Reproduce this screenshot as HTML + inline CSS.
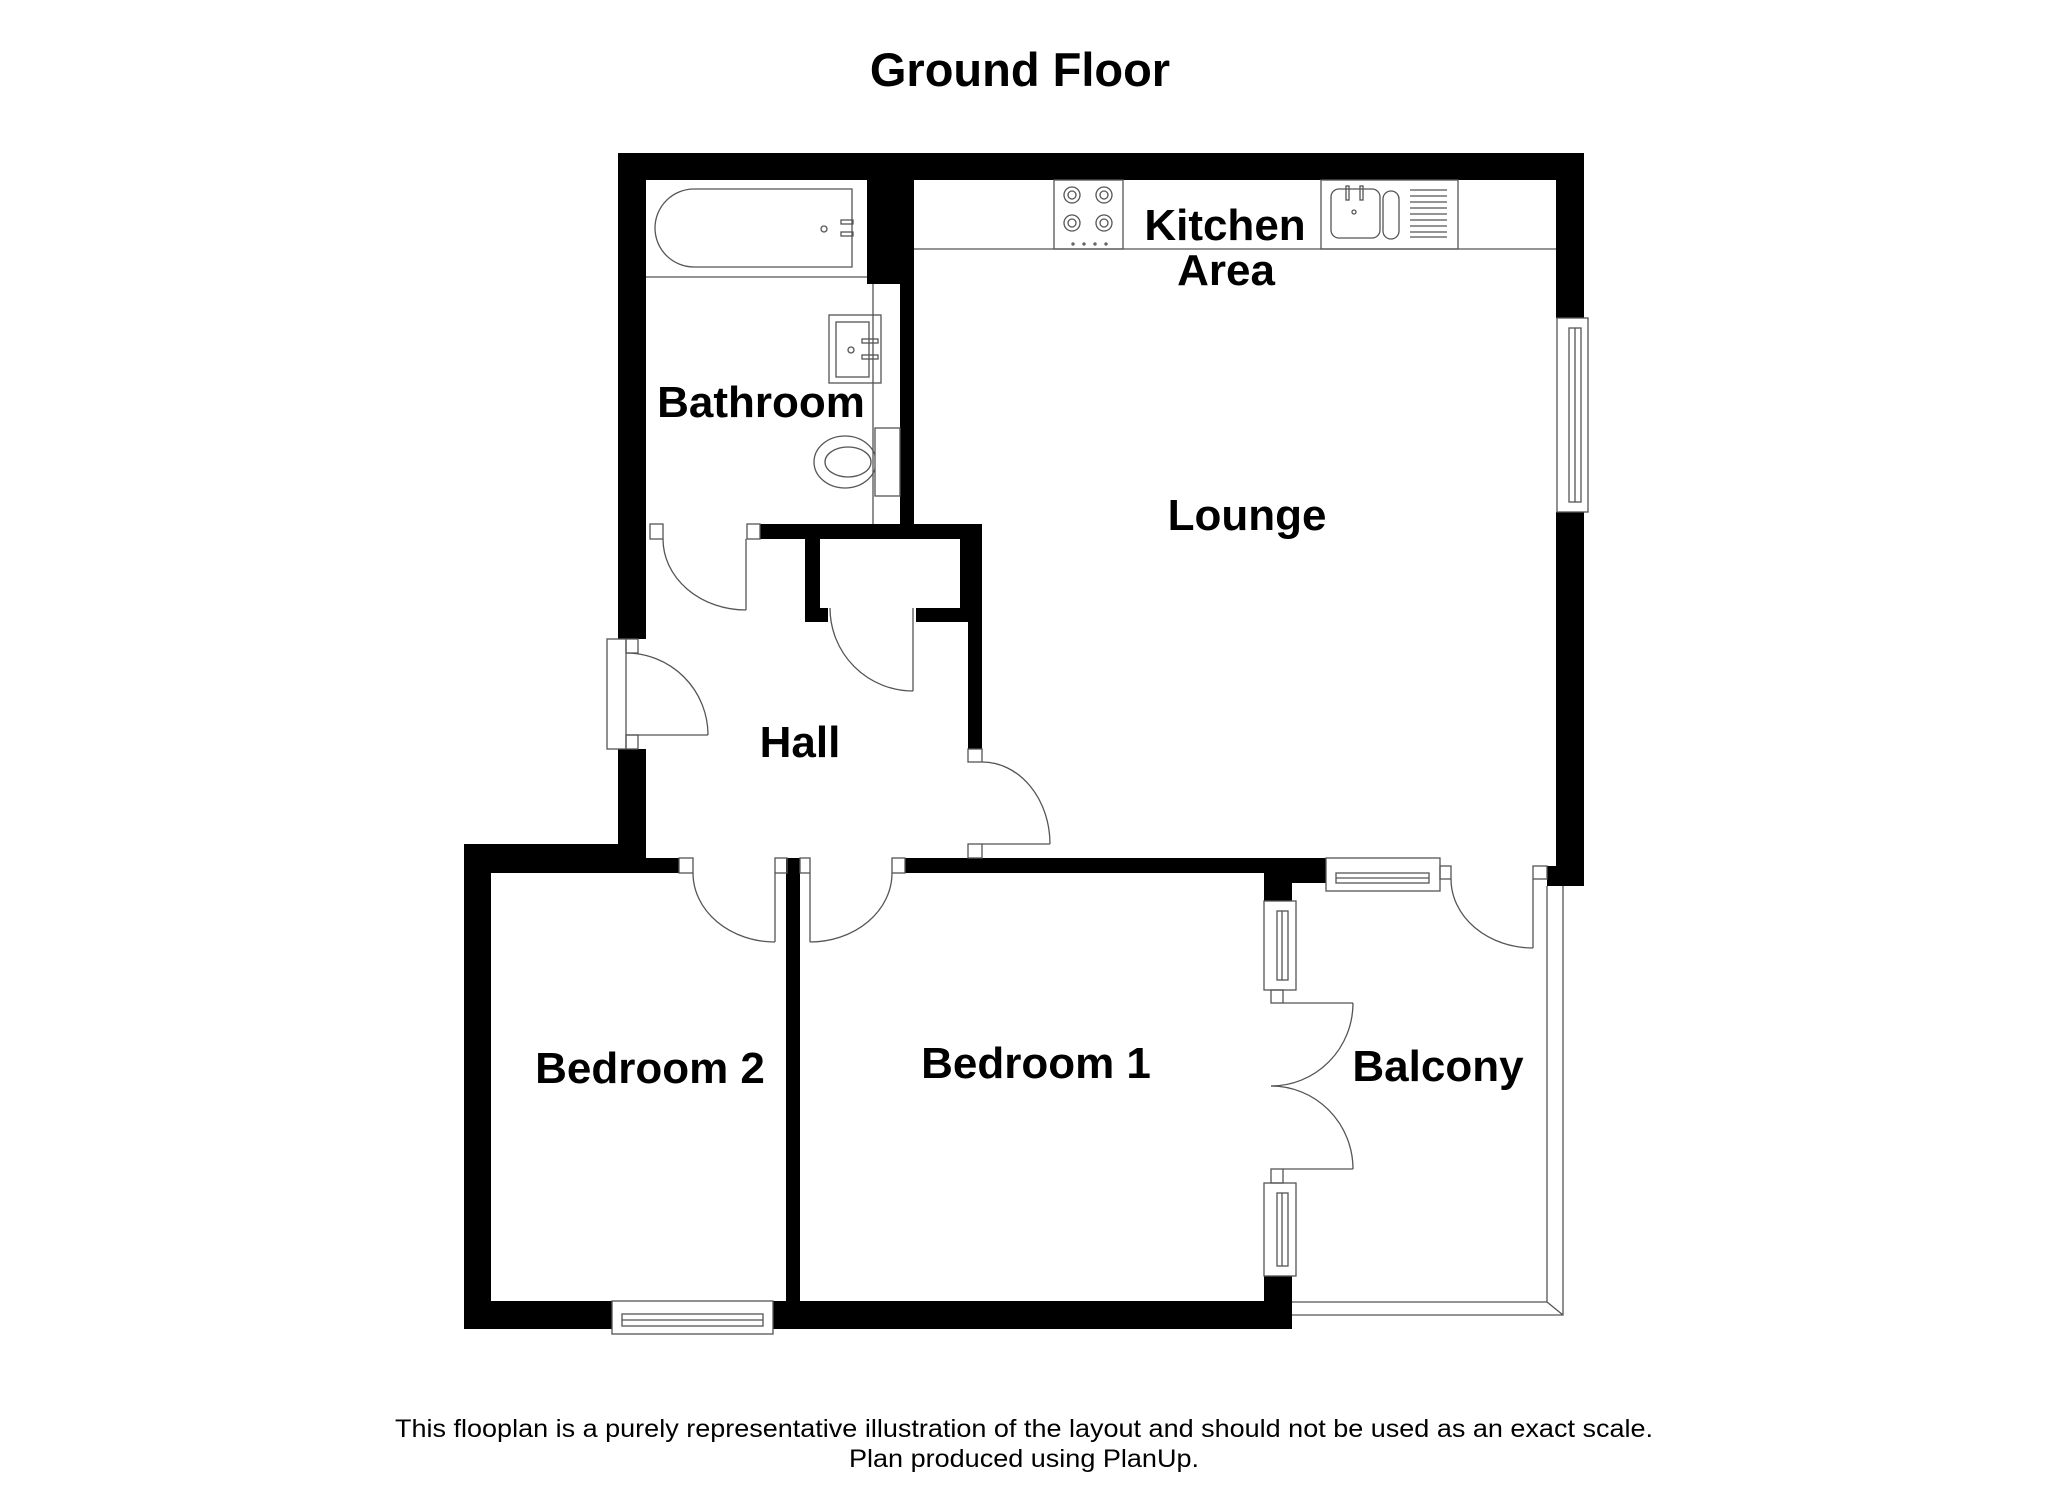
<!DOCTYPE html>
<html><head><meta charset="utf-8"><style>
html,body{margin:0;padding:0;background:#fff}
svg{display:block}
text{font-family:"Liberation Sans",Arial,sans-serif;font-weight:bold;fill:#000}
</style></head><body>
<svg width="2048" height="1489" viewBox="0 0 2048 1489" xmlns="http://www.w3.org/2000/svg">
<rect width="2048" height="1489" fill="#fff"/>
<g fill="#000">
<rect x="618" y="153" width="966" height="27"/>
<rect x="618" y="153" width="28" height="486"/>
<rect x="618" y="749" width="28" height="124"/>
<rect x="1556" y="153" width="28" height="165"/>
<rect x="1556" y="512" width="28" height="374"/>
<rect x="1547" y="866" width="12" height="20"/>
<rect x="867" y="180" width="47" height="104"/>
<rect x="900" y="180" width="14" height="344"/>
<rect x="760" y="524" width="222" height="15"/>
<rect x="805" y="524" width="15" height="98"/>
<rect x="805" y="608" width="23" height="14"/>
<rect x="960" y="524" width="22" height="98"/>
<rect x="916" y="608" width="52" height="14"/>
<rect x="968" y="524" width="14" height="225"/>
<rect x="464" y="844" width="182" height="29"/>
<rect x="618" y="844" width="28" height="29"/>
<rect x="646" y="858" width="33" height="15"/>
<rect x="786" y="858" width="14" height="443"/>
<rect x="905" y="858" width="421" height="15"/>
<rect x="1264" y="858" width="62" height="25"/>
<rect x="1264" y="858" width="28" height="43"/>
<rect x="464" y="844" width="27" height="485"/>
<rect x="464" y="1301" width="148" height="28"/>
<rect x="773" y="1301" width="519" height="28"/>
<rect x="1264" y="1276" width="28" height="53"/>
</g>
<g fill="none" stroke="#555" stroke-width="1.3">
<line x1="646" y1="277" x2="867" y2="277"/>
<path d="M694,189 H852 V267 H694 A39,39 0 0 1 694,189 Z"/>
<rect x="841" y="220" width="12" height="4"/>
<rect x="841" y="232" width="12" height="4"/>
<circle cx="824" cy="229" r="3"/>
<line x1="873" y1="284" x2="873" y2="524"/>
<rect x="829" y="315" width="52" height="68"/>
<rect x="836" y="322" width="33" height="55"/>
<rect x="862" y="339" width="16" height="4"/>
<rect x="862" y="355" width="16" height="4"/>
<circle cx="851" cy="350" r="3"/>
<ellipse cx="845" cy="462" rx="31" ry="26"/>
<ellipse cx="848" cy="462" rx="23" ry="15"/>
<rect x="875" y="428" width="25" height="68" fill="#fff"/>
<line x1="914" y1="249" x2="1556" y2="249"/>
<rect x="1054" y="180" width="69" height="69"/>
<circle cx="1072" cy="195" r="8"/><circle cx="1072" cy="195" r="4"/>
<circle cx="1104" cy="195" r="8"/><circle cx="1104" cy="195" r="4"/>
<circle cx="1072" cy="223" r="8"/><circle cx="1072" cy="223" r="4"/>
<circle cx="1104" cy="223" r="8"/><circle cx="1104" cy="223" r="4"/>
<circle cx="1073" cy="244" r="1"/><circle cx="1084" cy="244" r="1"/><circle cx="1095" cy="244" r="1"/><circle cx="1106" cy="244" r="1"/>
<rect x="1321" y="180" width="137" height="69"/>
<rect x="1331" y="189" width="49" height="49" rx="8"/>
<rect x="1383" y="191" width="16" height="48" rx="8"/>
<rect x="1346" y="186" width="3" height="14"/><rect x="1360" y="186" width="3" height="14"/>
<circle cx="1354" cy="212" r="2"/>
<path d="M1410,190H1447M1410,196H1447M1410,202H1447M1410,208H1447M1410,214H1447M1410,220H1447M1410,226H1447M1410,232H1447M1410,237H1447"/>
<rect x="1557" y="318" width="31" height="194"/>
<rect x="1569" y="328" width="12" height="174"/>
<line x1="1575" y1="328" x2="1575" y2="502"/>
<rect x="650" y="524" width="13" height="15"/>
<rect x="747" y="524" width="13" height="15"/>
<line x1="746" y1="539" x2="746" y2="610"/>
<path d="M663,539 A83,71 0 0 0 746,610"/>
<rect x="607" y="639" width="19" height="110"/>
<rect x="626" y="639" width="12" height="14"/>
<rect x="626" y="735" width="12" height="14"/>
<line x1="626" y1="735" x2="708" y2="735"/>
<path d="M626,653 A82,82 0 0 1 708,735"/>
<line x1="913" y1="608" x2="913" y2="691"/>
<path d="M830,608 A83,83 0 0 0 913,691"/>
<rect x="968" y="749" width="14" height="13"/>
<rect x="968" y="844" width="14" height="14"/>
<line x1="982" y1="844" x2="1050" y2="844"/>
<path d="M982,762 A68,82 0 0 1 1050,844"/>
<rect x="679" y="858" width="14" height="15"/>
<rect x="775" y="858" width="12" height="15"/>
<rect x="800" y="858" width="10" height="15"/>
<rect x="892" y="858" width="13" height="15"/>
<line x1="775" y1="873" x2="775" y2="942"/>
<path d="M693,873 A82,69 0 0 0 775,942"/>
<line x1="810" y1="873" x2="810" y2="942"/>
<path d="M892,873 A82,69 0 0 1 810,942"/>
<rect x="1326" y="858" width="114" height="33"/>
<rect x="1336" y="873" width="93" height="10"/>
<line x1="1336" y1="878" x2="1429" y2="878"/>
<rect x="1440" y="866" width="11" height="13"/>
<rect x="1533" y="866" width="14" height="13"/>
<line x1="1533" y1="879" x2="1533" y2="948"/>
<path d="M1451,879 A82,69 0 0 0 1533,948"/>
<path d="M1547,886 V1302 H1292 M1563,886 V1315 H1292 M1547,1302 L1563,1315"/>
<rect x="1264" y="901" width="32" height="89"/>
<rect x="1277" y="911" width="11" height="69"/>
<line x1="1282" y1="911" x2="1282" y2="980"/>
<rect x="1271" y="990" width="12" height="13"/>
<line x1="1283" y1="1003" x2="1353" y2="1003"/>
<path d="M1353,1003 A82,83 0 0 1 1271,1086"/>
<path d="M1271,1086 A82,83 0 0 1 1353,1169"/>
<line x1="1283" y1="1169" x2="1353" y2="1169"/>
<rect x="1271" y="1169" width="12" height="14"/>
<rect x="1264" y="1183" width="32" height="93"/>
<rect x="1277" y="1193" width="11" height="73"/>
<line x1="1282" y1="1193" x2="1282" y2="1266"/>
<rect x="612" y="1301" width="161" height="33"/>
<rect x="622" y="1314" width="141" height="12"/>
<line x1="622" y1="1320" x2="763" y2="1320"/>
</g>
<g text-anchor="middle">
<text x="1020" y="86" font-size="47">Ground Floor</text>
<text x="1225" y="240" font-size="44">Kitchen</text>
<text x="1226" y="285" font-size="44">Area</text>
<text x="761" y="417" font-size="44">Bathroom</text>
<text x="1247" y="530" font-size="44">Lounge</text>
<text x="800" y="757" font-size="44">Hall</text>
<text x="650" y="1083" font-size="44">Bedroom 2</text>
<text x="1036" y="1078" font-size="44">Bedroom 1</text>
<text x="1438" y="1081" font-size="44">Balcony</text>
<text x="1024" y="1437" font-size="25" style="font-weight:normal" textLength="1258" lengthAdjust="spacingAndGlyphs">This flooplan is a purely representative illustration of the layout and should not be used as an exact scale.</text>
<text x="1024" y="1467" font-size="25" style="font-weight:normal" textLength="350" lengthAdjust="spacingAndGlyphs">Plan produced using PlanUp.</text>
</g>
</svg>
</body></html>
